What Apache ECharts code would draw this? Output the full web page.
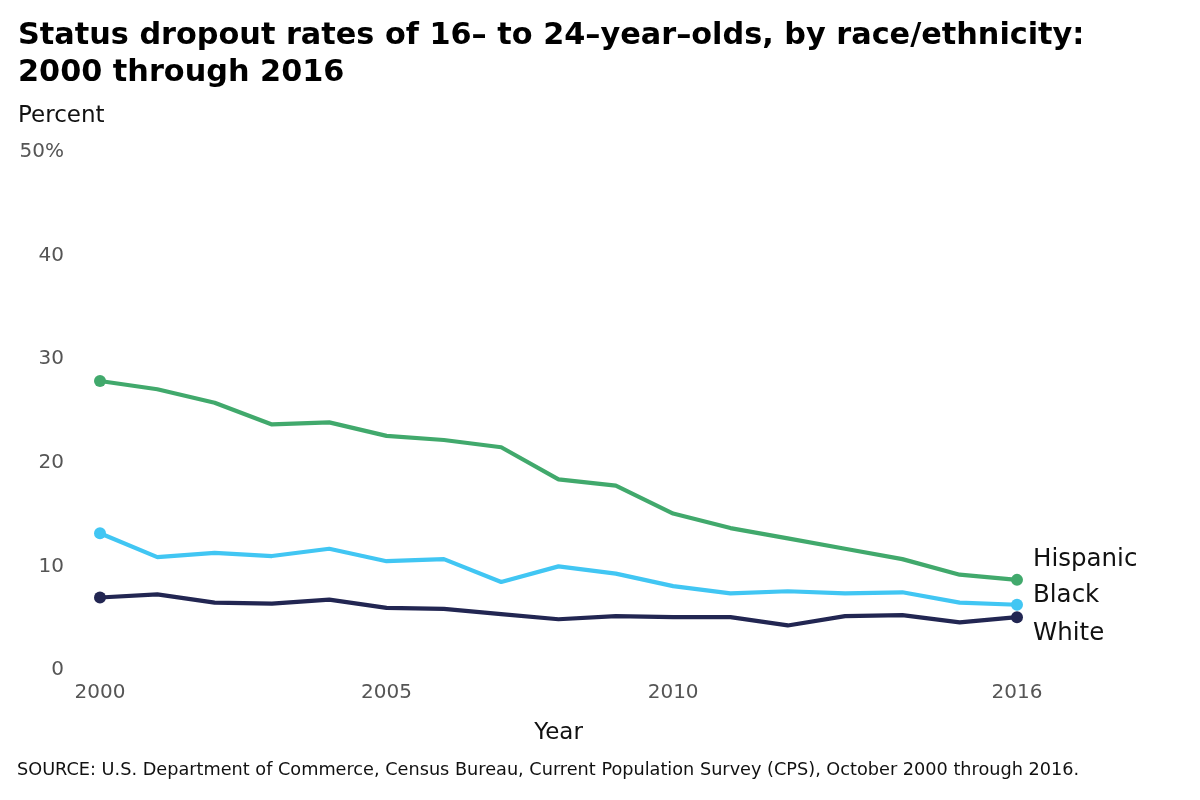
<!DOCTYPE html>
<html>
<head>
<meta charset="utf-8">
<script src="https://cdn.jsdelivr.net/npm/echarts@6/dist/echarts.min.js"></script>
<style>
  html, body { margin: 0; padding: 0; background: #fff; }
  #chart { width: 1200px; height: 800px; }
</style>
</head>
<body>
<div id="chart"></div>
<script>
const years = ['2000', '2001', '2002', '2003', '2004', '2005', '2006', '2007', '2008',
  '2009', '2010', '2011', '2012', '2013', '2014', '2015', '2016'];
const hispanic = [27.9, 27.1, 25.8, 23.7, 23.9, 22.6, 22.2, 21.5, 18.4, 17.8, 15.1, 13.7, 12.7, 11.7, 10.7, 9.2, 8.7];
const black = [13.2, 10.9, 11.3, 11.0, 11.7, 10.5, 10.7, 8.5, 10.0, 9.3, 8.1, 7.4, 7.6, 7.4, 7.5, 6.5, 6.3];
const white = [7.0, 7.3, 6.5, 6.4, 6.8, 6.0, 5.9, 5.4, 4.9, 5.2, 5.1, 5.1, 4.3, 5.2, 5.3, 4.6, 5.1];
const yearLabels = ['2000', '2005', '2010', '2016'];
const yTicks = [0, 10, 20, 30, 40, 50];

const FONT = '"DejaVu Sans", sans-serif';

// only first and last points get a dot
const withEndDots = (arr) => arr.map((v, i) =>
  (i === 0 || i === arr.length - 1)
    ? { value: v, symbol: 'circle', symbolSize: 12 }
    : { value: v, symbol: 'none' });

const makeSeries = (name, data, color, offsetY) => ({
  name: name,
  type: 'line',
  data: withEndDots(data),
  showAllSymbol: true,
  lineStyle: { color: color, width: 4.2 },
  itemStyle: { color: color },
  emphasis: { disabled: true },
  endLabel: {
    show: true,
    formatter: name,
    fontFamily: FONT,
    fontSize: 24.5,
    color: '#111',
    offset: [8, offsetY]
  }
});

const getOptionChart = () => {
  return {
    animation: false,
    title: {
      text: 'Status dropout rates of 16– to 24–year–olds, by race/ethnicity:\n2000 through 2016',
      left: 13,
      top: 13,
      textStyle: { fontFamily: FONT, fontWeight: 'bold', fontSize: 30.3, lineHeight: 37, color: '#000' }
    },
    graphic: [
      { type: 'text', left: 18, top: 105, style: { text: 'Percent', font: '23px ' + FONT, fill: '#111' } },
      { type: 'text', left: 17, top: 761, style: { text: 'SOURCE: U.S. Department of Commerce, Census Bureau, Current Population Survey (CPS), October 2000 through 2016.', font: '17.7px ' + FONT, fill: '#111' } }
    ],
    grid: { left: 100, right: 183, top: 152, bottom: 130 },
    xAxis: {
      type: 'category',
      data: years,
      boundaryGap: false,
      axisLine: { show: false },
      axisTick: { show: false },
      axisLabel: {
        interval: (i, v) => yearLabels.includes(v),
        fontFamily: FONT,
        fontSize: 20,
        color: '#555',
        margin: 13
      },
      name: 'Year',
      nameLocation: 'middle',
      nameGap: 52,
      nameTextStyle: { fontFamily: FONT, fontSize: 23, color: '#111' }
    },
    yAxis: {
      type: 'value',
      min: yTicks[0],
      max: yTicks[yTicks.length - 1],
      interval: 10,
      splitLine: { show: false },
      axisLine: { show: false },
      axisTick: { show: false },
      axisLabel: {
        formatter: (v) => (v === 50 ? v + '%' : v),
        fontFamily: FONT,
        fontSize: 20,
        color: '#555',
        margin: 36
      }
    },
    series: [
      makeSeries('Hispanic', hispanic, '#41a96c', -20),
      makeSeries('Black', black, '#41c6f3', -9),
      makeSeries('White', white, '#222652', 16)
    ]
  };
};

const initCharts = () => {
  const chart = echarts.init(document.getElementById('chart'));
  chart.setOption(getOptionChart());
};

window.addEventListener('load', () => {
  initCharts();
});
</script>
</body>
</html>
